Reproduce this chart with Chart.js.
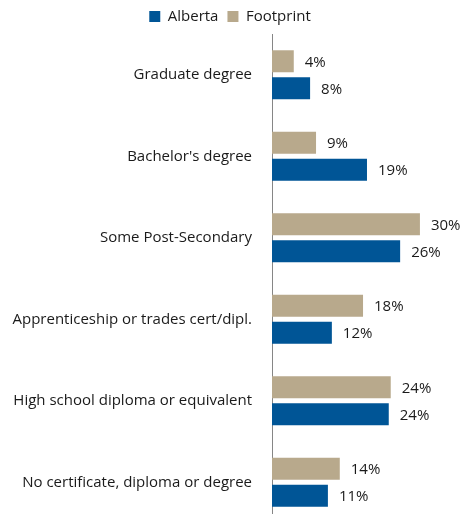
<!DOCTYPE html>
<html>
<head>
<meta charset="utf-8">
<script src="https://cdn.jsdelivr.net/npm/chart.js@4"></script>
<style>
  html, body { margin: 0; padding: 0; background: #fff; overflow: hidden; }
</style>
</head>
<body>
<!-- taller than the window on purpose: the axis runs off the bottom like the original -->
<canvas id="edu-chart" width="460" height="552"></canvas>
<script>
const categories = [
    'Graduate degree',
    "Bachelor's degree",
    'Some Post-Secondary',
    'Apprenticeship or trades cert/dipl.',
    'High school diploma or equivalent',
    'No certificate, diploma or degree'
];
const footprintValues = [4.4, 8.9, 29.9, 18.4, 24.0, 13.7];
const albertaValues = [7.7, 19.2, 25.9, 12.1, 23.6, 11.3];

const FONT = '"Open Sans", sans-serif';
const FONT_SIZE = 15;

// prints the rounded % just past the end of each bar
const valueLabels = {
    id: 'valueLabels',
    afterDatasetsDraw(chart) {
        const ctx = chart.ctx;
        ctx.save();
        ctx.font = FONT_SIZE + 'px ' + FONT;
        ctx.fillStyle = '#1a1a1a';
        ctx.textAlign = 'left';
        ctx.textBaseline = 'middle';
        chart.data.datasets.forEach((ds, i) => {
            chart.getDatasetMeta(i).data.forEach((bar, j) => {
                ctx.fillText(Math.round(ds.data[j]) + '%', bar.x + 11, bar.y + 1);
            });
        });
        ctx.restore();
    }
};

const renderChart = () => {
    const ctx = document.getElementById('edu-chart').getContext('2d');

    new Chart(ctx, {
        type: 'bar',
        data: {
            labels: categories,
            datasets: [{
                label: 'Footprint',
                data: footprintValues,
                backgroundColor: '#b8a98c',
                categoryPercentage: 0.662,
                barPercentage: 0.815
            }, {
                label: 'Alberta',
                data: albertaValues,
                backgroundColor: '#005596',
                categoryPercentage: 0.662,
                barPercentage: 0.815
            }]
        },
        options: {
            indexAxis: 'y',
            responsive: false,
            animation: false,
            layout: { padding: { top: 0, right: 0, bottom: 0, left: 0 } },
            plugins: {
                tooltip: { enabled: false },
                legend: {
                    position: 'top',
                    reverse: true,
                    labels: {
                        boxWidth: 11,
                        boxHeight: 11,
                        padding: 9,
                        color: '#1a1a1a',
                        font: { family: FONT, size: FONT_SIZE }
                    }
                }
            },
            scales: {
                x: { display: false, min: 0, max: 38 },
                y: {
                    grid: { display: false, drawTicks: false },
                    border: { display: true, color: '#868686', width: 1 },
                    ticks: {
                        color: '#1a1a1a',
                        padding: 20,
                        font: { family: FONT, size: FONT_SIZE }
                    },
                    afterFit(scale) { scale.width = 272; }
                }
            }
        },
        plugins: [valueLabels]
    });
};

document.addEventListener('DOMContentLoaded', () => {
    renderChart();
});
</script>
</body>
</html>
